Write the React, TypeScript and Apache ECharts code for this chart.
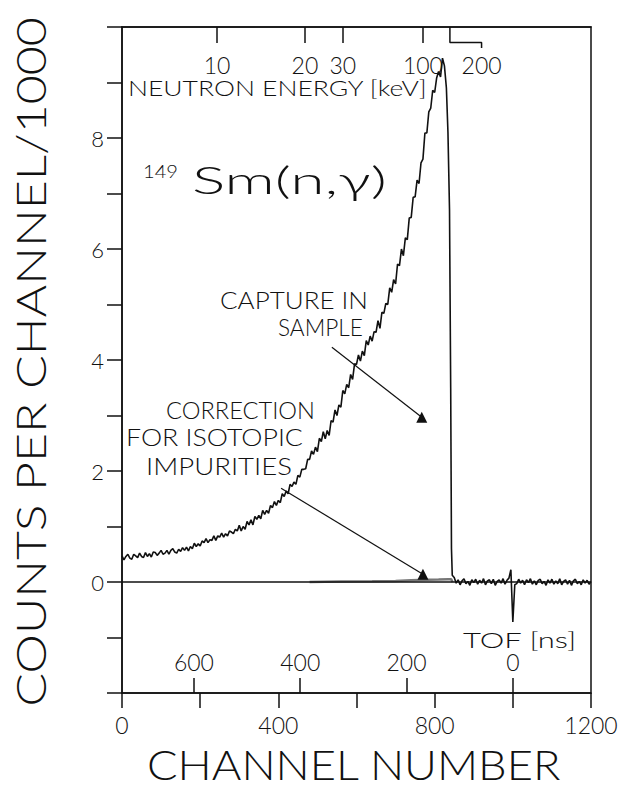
import React, { useEffect, useRef } from 'react';
import * as echarts from 'echarts';

// ---- data ----
// rising part of the spectrum, one value every 5 channels from channel 0 to 800
const riseStep = 5;
const riseCounts = [
  0.47, 0.40, 0.46, 0.50, 0.43, 0.41, 0.50, 0.47, 0.44, 0.52,
  0.46, 0.44, 0.53, 0.46, 0.51, 0.45, 0.54, 0.53, 0.48, 0.52,
  0.57, 0.50, 0.52, 0.57, 0.50, 0.57, 0.60, 0.54, 0.52, 0.59,
  0.55, 0.62, 0.57, 0.63, 0.56, 0.64, 0.60, 0.70, 0.64, 0.69,
  0.65, 0.74, 0.71, 0.78, 0.71, 0.76, 0.75, 0.83, 0.75, 0.83,
  0.81, 0.88, 0.81, 0.87, 0.83, 0.92, 0.90, 0.87, 0.95, 0.92,
  1.02, 0.92, 1.00, 0.95, 1.09, 1.03, 1.12, 1.03, 1.18, 1.13,
  1.20, 1.14, 1.29, 1.22, 1.29, 1.24, 1.38, 1.34, 1.45, 1.38,
  1.47, 1.43, 1.59, 1.54, 1.64, 1.59, 1.76, 1.72, 1.80, 1.76,
  1.92, 1.89, 2.03, 2.03, 2.04, 2.21, 2.21, 2.36, 2.30, 2.43,
  2.35, 2.59, 2.53, 2.71, 2.58, 2.73, 2.64, 2.91, 2.88, 3.10,
  3.00, 3.19, 3.15, 3.45, 3.39, 3.56, 3.50, 3.74, 3.65, 3.93,
  3.92, 4.09, 3.98, 4.16, 4.08, 4.35, 4.27, 4.43, 4.34, 4.51,
  4.50, 4.71, 4.57, 4.86, 4.84, 5.02, 5.00, 5.30, 5.22, 5.45,
  5.37, 5.73, 5.70, 6.00, 5.88, 6.20, 6.17, 6.56, 6.57, 6.93,
  6.94, 7.24, 7.18, 7.55, 7.62, 8.09, 8.09, 8.47, 8.54, 8.86,
  8.82,
];
// peak and fall
const peakChannels = [805, 810, 815, 820, 825, 830, 834, 838, 841, 843, 845];
const peakCounts = [9.08, 9.20, 9.10, 9.44, 9.30, 8.90, 8.10, 6.70, 3.50, 0.60, 0.12];
// flat tail after the fall (gamma flash at channel 1000), every 5 channels from 850 to 1200
const tailStart = 850;
const tailCounts = [
  0.08, -0.02, 0.04, -0.05, 0.02, 0.06, -0.03, 0.01, -0.06, 0.04,
  -0.01, 0.05, -0.04, 0.03, -0.02, 0.06, -0.05, 0.02, 0.04, -0.03,
  0.05, -0.06, 0.01, 0.04, -0.02, 0.06, -0.04, 0.03, 0.07, 0.22,
  -0.72, -0.05, -0.03, 0.05, -0.02, 0.03, -0.05, 0.04, -0.01, 0.06,
  -0.04, 0.02, -0.05, 0.03, 0.05, -0.03, 0.01, -0.06, 0.04, -0.02,
  0.05, -0.04, 0.02, -0.03, 0.06, -0.05, 0.01, 0.04, -0.04, 0.03,
  -0.06, 0.02, 0.05, -0.03, 0.01, -0.05, 0.04, -0.02, 0.03, -0.04,
  0.01,
];
const corrChannels = [480, 560, 640, 700, 740, 780, 810, 835, 842, 846];
const corrCounts = [0, 0.01, 0.015, 0.02, 0.03, 0.04, 0.045, 0.05, 0.05, 0];

const channelTickLabels = [0, 400, 800, 1200];
const tofLabels = [600, 400, 200, 0];
const tofChannels = [184, 456, 728, 1000];
const energyLabels = ['10', '20', '30', '100', '200'];
const energyTickChannels = [243, 468, 565, 770];
const energyLabelChannels = [243, 468, 565, 770, 920];
const energyJog = [[839, 10], [839, 9.72], [920, 9.72], [920, 9.62]];
const yTickLabels = [0, 2, 4, 6, 8];
const arrowSample = [[537, 4.23], [767, 2.97]];
const arrowImpurity = [[407, 1.69], [770, 0.14]];

const FONT = 'Lato';
const INK = '#111';

function measure(text: string, size: number): number {
  const ctx = document.createElement('canvas').getContext('2d')!;
  ctx.font = `300 ${size}px ${FONT}`;
  return ctx.measureText(text).width || text.length * size * 0.6;
}

function txt(text: string, x: number, y: number, width: number, size: number, extra: any = {}) {
  const sx = width / measure(text, size);
  return {
    type: 'text',
    x,
    y,
    scaleX: sx,
    silent: true,
    ...extra,
    style: {
      text,
      fontFamily: FONT,
      fontWeight: 300,
      fontSize: size,
      fill: INK,
      align: extra.align || 'left',
      verticalAlign: 'middle',
    },
  };
}

const labelStyle = { color: INK, fontFamily: FONT, fontWeight: 300, fontSize: 22 };

export default function App() {
  const ref = useRef<HTMLDivElement>(null);
  useEffect(() => {
    document.body.style.margin = '0';
    const chart = echarts.init(ref.current!, null, { renderer: 'svg' });
    const spectrum: number[][] = [];
    riseCounts.forEach((v, i) => spectrum.push([i * riseStep, v]));
    peakChannels.forEach((c, i) => spectrum.push([c, peakCounts[i]]));
    tailCounts.forEach((v, i) => spectrum.push([tailStart + i * 5, v]));

    const axisLine = { show: true, onZero: false, lineStyle: { color: INK, width: 1.5 } };
    const option: any = {
      animation: false,
      backgroundColor: '#fff',
      grid: {
        left: 122, right: 31, top: 27, bottom: 96,
        show: true, borderColor: INK, borderWidth: 1.5,
        containLabel: false, outerBoundsMode: 'none',
      },
      xAxis: [
        {
          type: 'value', position: 'bottom', min: 0, max: 1200, interval: 200,
          axisLine,
          axisTick: { show: true, inside: false, length: 15, lineStyle: { color: INK, width: 1.5 } },
          axisLabel: {
            ...labelStyle, fontSize: 23, margin: 20, customValues: channelTickLabels,
            formatter: (v: number) => String(v),
          },
          splitLine: { show: false },
        },
        {
          type: 'value', position: 'bottom', min: 0, max: 1200,
          axisLine: { show: false, onZero: false },
          axisTick: { show: true, inside: true, length: 15, customValues: tofChannels, lineStyle: { color: INK, width: 1.5 } },
          axisLabel: {
            ...labelStyle, fontSize: 23, inside: true, margin: 20, verticalAlign: 'bottom',
            customValues: tofChannels,
            formatter: (v: number) => String(tofLabels[tofChannels.indexOf(v)] ?? ''),
          },
          splitLine: { show: false },
        },
        {
          type: 'value', position: 'top', min: 0, max: 1200,
          axisLine,
          axisTick: { show: true, inside: true, length: 16, customValues: energyTickChannels, lineStyle: { color: INK, width: 1.5 } },
          axisLabel: {
            ...labelStyle, fontSize: 23, inside: true, margin: 26, verticalAlign: 'top',
            customValues: energyLabelChannels,
            formatter: (v: number) => energyLabels[energyLabelChannels.indexOf(v)] ?? '',
          },
          splitLine: { show: false },
        },
      ],
      yAxis: [
        {
          type: 'value', min: -2, max: 10, interval: 1,
          axisLine,
          axisTick: { show: true, inside: false, length: 15, lineStyle: { color: INK, width: 1.5 } },
          axisLabel: { ...labelStyle, fontSize: 22, margin: 18, customValues: yTickLabels },
          splitLine: { show: false },
        },
      ],
      series: [
        {
          type: 'line', xAxisIndex: 0, yAxisIndex: 0,
          data: spectrum,
          symbol: 'none',
          lineStyle: { color: INK, width: 1.6 },
          z: 3,
          markLine: {
            silent: true,
            symbol: ['none', 'none'],
            label: { show: false },
            lineStyle: { color: INK, width: 1.2, type: 'solid' },
            data: [
              { yAxis: 0, lineStyle: { color: INK, width: 1.5, type: 'solid' } },
              [
                { coord: arrowSample[0], symbol: 'none' },
                { coord: arrowSample[1], symbol: 'triangle', symbolSize: 11, symbolRotate: 0, itemStyle: { color: '#444' } },
              ],
              [
                { coord: arrowImpurity[0], symbol: 'none' },
                { coord: arrowImpurity[1], symbol: 'triangle', symbolSize: 11, symbolRotate: 0, itemStyle: { color: '#444' } },
              ],
            ],
          },
        },
        {
          type: 'line', xAxisIndex: 0, yAxisIndex: 0,
          data: corrChannels.map((c, i) => [c, corrCounts[i]]),
          symbol: 'none',
          lineStyle: { color: '#777', width: 2.5 },
          z: 2,
        },
        {
          type: 'line', xAxisIndex: 0, yAxisIndex: 0,
          data: energyJog,
          symbol: 'none',
          clip: false,
          lineStyle: { color: INK, width: 1.5 },
        },
      ],
      graphic: [
        txt('NEUTRON ENERGY [keV]', 128, 88, 300, 21),
        txt('149', 143, 172, 35, 17),
        txt('Sm(n,γ)', 192, 180, 195, 37),
        txt('CAPTURE IN', 220, 300, 148, 23),
        txt('SAMPLE', 278, 327, 85, 23),
        txt('CORRECTION', 166, 410, 149, 23),
        txt('FOR ISOTOPIC', 126, 437, 177, 23),
        txt('IMPURITIES', 146, 466, 146, 23),
        txt('TOF [ns]', 463, 640, 114, 21),
        txt('CHANNEL NUMBER', 147, 764, 415, 42),
        txt('COUNTS PER CHANNEL/1000', 30, 362, 690, 42, { rotation: Math.PI / 2, align: 'center' }),
      ],
    };
    chart.setOption(option);
    return () => chart.dispose();
  }, []);
  return (
    <div
      ref={ref}
      style={{ position: 'fixed', left: 0, top: 0, width: 622, height: 789, background: '#fff' }}
    />
  );
}
